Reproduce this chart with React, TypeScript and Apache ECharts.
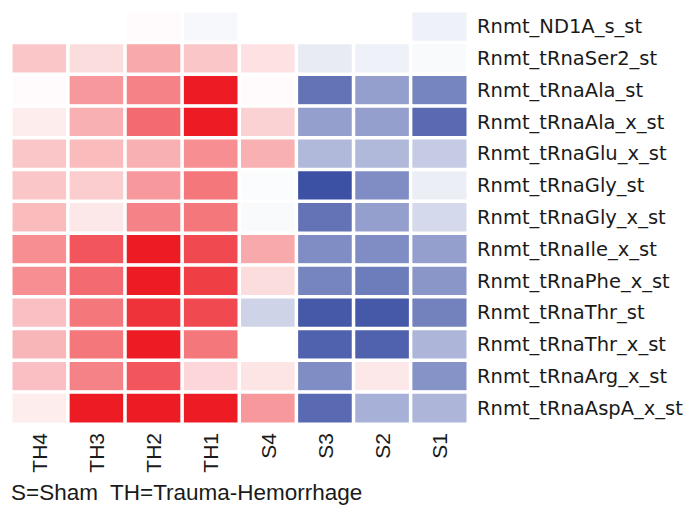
import React, { useEffect, useRef } from "react";
import * as echarts from "echarts";

const samples = ["TH4", "TH3", "TH2", "TH1", "S4", "S3", "S2", "S1"];
const probes = [
  "Rnmt_ND1A_s_st",
  "Rnmt_tRnaSer2_st",
  "Rnmt_tRnaAla_st",
  "Rnmt_tRnaAla_x_st",
  "Rnmt_tRnaGlu_x_st",
  "Rnmt_tRnaGly_st",
  "Rnmt_tRnaGly_x_st",
  "Rnmt_tRnaIle_x_st",
  "Rnmt_tRnaPhe_x_st",
  "Rnmt_tRnaThr_st",
  "Rnmt_tRnaThr_x_st",
  "Rnmt_tRnaArg_x_st",
  "Rnmt_tRnaAspA_x_st",
];
// rows follow probes, columns follow samples
const values: number[][] = [
  [0, 0, 0.02, -0.04, 0, 0, 0, -0.08],
  [0.25, 0.15, 0.38, 0.25, 0.13, -0.12, -0.08, -0.03],
  [0.02, 0.45, 0.55, 1.0, 0.02, -0.8, -0.55, -0.7],
  [0.08, 0.35, 0.65, 1.0, 0.2, -0.55, -0.55, -0.85],
  [0.25, 0.3, 0.35, 0.5, 0.35, -0.4, -0.4, -0.3],
  [0.25, 0.22, 0.45, 0.6, -0.02, -1.0, -0.65, -0.1],
  [0.3, 0.1, 0.55, 0.6, -0.03, -0.8, -0.55, -0.22],
  [0.5, 0.75, 1.0, 0.8, 0.38, -0.65, -0.65, -0.55],
  [0.5, 0.65, 1.0, 0.85, 0.15, -0.7, -0.75, -0.6],
  [0.28, 0.6, 0.9, 0.8, -0.25, -0.95, -0.95, -0.72],
  [0.32, 0.6, 1.0, 0.6, 0, -0.9, -0.9, -0.42],
  [0.28, 0.55, 0.75, 0.18, 0.12, -0.65, 0.1, -0.62],
  [0.08, 1.0, 1.0, 1.0, 0.45, -0.85, -0.45, -0.42],
];
const footnote = "S=Sham  TH=Trauma-Hemorrhage";

export default function App() {
  const ref = useRef<HTMLDivElement>(null);
  useEffect(() => {
    document.body.style.margin = "0";
    if (!ref.current) return;
    const chart = echarts.init(ref.current, null, { renderer: "svg" });
    const data: [number, number, number][] = [];
    values.forEach((row, r) =>
      row.forEach((v, c) => data.push([c, r, v]))
    );
    chart.setOption({
      animation: false,
      backgroundColor: "#ffffff",
      grid: { left: 11, right: 230, top: 11, bottom: 98 },
      xAxis: {
        type: "category",
        data: samples,
        position: "bottom",
        axisLine: { show: false },
        axisTick: { show: false },
        splitLine: { show: false },
        axisLabel: {
          rotate: 90,
          fontSize: 21,
          fontFamily: "Liberation Sans, Arial, sans-serif",
          color: "#1a1a1a",
          margin: 9,
        },
      },
      yAxis: {
        type: "category",
        data: probes,
        inverse: true,
        position: "right",
        axisLine: { show: false },
        axisTick: { show: false },
        splitLine: { show: false },
        axisLabel: {
          fontSize: 19.5,
          fontFamily: "DejaVu Sans, Verdana, sans-serif",
          color: "#1a1a1a",
          margin: 9,
        },
      },
      visualMap: {
        show: false,
        type: "continuous",
        min: -1,
        max: 1,
        dimension: 2,
        inRange: { color: ["#3C50A4", "#ffffff", "#ED1C24"] },
      },
      series: [
        {
          type: "heatmap",
          data,
          itemStyle: { borderColor: "#ffffff", borderWidth: 3.5 },
          emphasis: { disabled: true },
        },
      ],
      graphic: [
        {
          type: "text",
          left: 11,
          top: 481,
          style: {
            text: footnote,
            fontSize: 22.5,
            fontFamily: "Liberation Sans, Arial, sans-serif",
            fill: "#1a1a1a",
          },
        },
      ],
    });
    return () => chart.dispose();
  }, []);
  return <div ref={ref} style={{ width: 698, height: 522 }} />;
}
